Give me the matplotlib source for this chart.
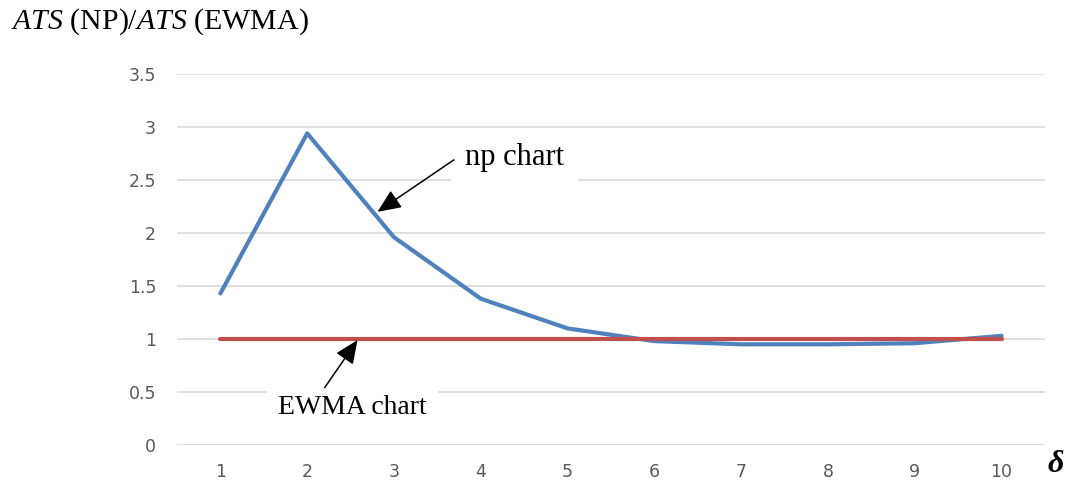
import matplotlib.pyplot as plt

plt.rcParams['mathtext.fontset'] = 'custom'
plt.rcParams['mathtext.it'] = 'Liberation Serif:italic'
plt.rcParams['mathtext.rm'] = 'Liberation Serif'

# Data
delta = [1, 2, 3, 4, 5, 6, 7, 8, 9, 10]
np_ratio = [1.43, 2.94, 1.96, 1.38, 1.10, 0.98, 0.95, 0.95, 0.96, 1.03]
ewma_ratio = [1, 1, 1, 1, 1, 1, 1, 1, 1, 1]
y_ticks = [0, 0.5, 1, 1.5, 2, 2.5, 3, 3.5]
y_tick_labels = ['0', '0.5', '1', '1.5', '2', '2.5', '3', '3.5']

fig = plt.figure(figsize=(10.66, 4.84), dpi=100)
ax = fig.add_axes([177 / 1066, 1 - 445 / 484, (1045 - 177) / 1066, (445 - 74) / 484])

ax.set_yticks(y_ticks)
ax.yaxis.grid(True, color='#d9d9d9', linewidth=1.2)
ax.set_axisbelow(True)

ax.plot(delta, ewma_ratio, color='#C0504D', linewidth=3.0, solid_capstyle='round', zorder=3)
ax.plot(delta, np_ratio, color='#4F81BD', linewidth=3.0, solid_capstyle='round',
        solid_joinstyle='round', zorder=2)

ax.set_xlim(0.5, 10.5)
ax.set_ylim(0, 3.5)
ax.set_xticks(delta)
ax.set_yticklabels(y_tick_labels)
ax.tick_params(length=0, labelsize=12.5, colors='#595959', pad=15)
ax.tick_params(axis='x', pad=13)
for s in ax.spines.values():
    s.set_visible(False)

serif = 'Liberation Serif'
arrow = dict(arrowstyle='-|>,head_length=0.8,head_width=0.35', color='black', lw=1.1,
             mutation_scale=18, shrinkA=0, shrinkB=0)

# np chart label and arrow
ax.text(3.82, 2.71, 'np chart', fontsize=22, family=serif, ha='left', va='center',
        bbox=dict(boxstyle='square,pad=0.45', fc='white', ec='none'), zorder=5)
ax.annotate('', xy=(2.81, 2.20), xytext=(3.69, 2.69), arrowprops=arrow, zorder=6)

# EWMA chart label and arrow
ax.text(2.52, 0.35, 'EWMA chart', fontsize=20, family=serif, ha='center', va='center',
        bbox=dict(boxstyle='square,pad=0.4', fc='white', ec='none'), zorder=5)
ax.annotate('', xy=(2.58, 0.99), xytext=(2.20, 0.54), arrowprops=arrow, zorder=6)

fig.text(11 / 1066, 1 - 22 / 484, r'$\mathit{ATS}$ (NP)/$\mathit{ATS}$ (EWMA)',
         fontsize=21.5, family=serif, ha='left', va='center')
fig.text(1047 / 1066, 1 - 464 / 484, 'δ',
         fontsize=23, family=serif, style='italic', weight='bold',
         ha='left', va='center')

fig.savefig('out.png', dpi=100)
